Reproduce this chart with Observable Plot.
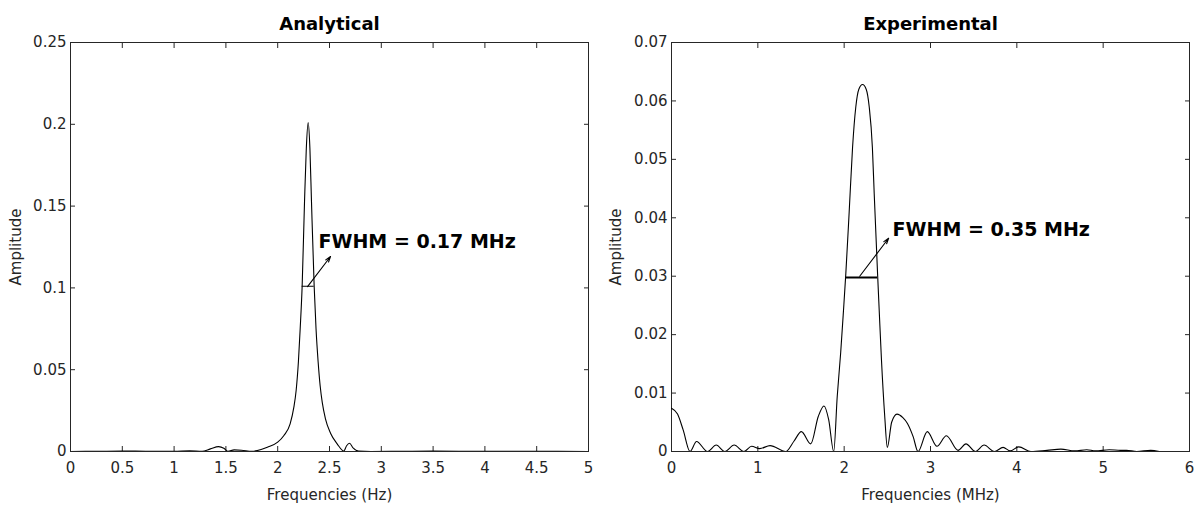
<!DOCTYPE html>
<html><head><meta charset="utf-8">
<script src="https://cdn.jsdelivr.net/npm/d3@7"></script>
<script src="https://cdn.jsdelivr.net/npm/@observablehq/plot@0.6"></script>
<style>
html,body{margin:0;padding:0;background:#fff;}
#wrap{display:flex;width:1204px;height:506px;}
</style></head><body><div id="wrap"></div>
<script>
// ---------- Analytical panel ----------
const anaFreq = [0, 0.25, 0.5, 0.75, 1.0, 1.15, 1.27, 1.35, 1.43, 1.48, 1.52, 1.58, 1.65, 1.75, 1.84, 1.90, 2.00, 2.06, 2.12, 2.156, 2.178, 2.20, 2.217, 2.236, 2.259, 2.276, 2.294, 2.311, 2.326, 2.352, 2.37, 2.39, 2.41, 2.43, 2.461, 2.510, 2.574, 2.638, 2.665, 2.693, 2.73, 2.78, 2.9, 3.2, 3.5, 4.0, 4.5, 5.0];
const anaAmp  = [0.0000, 0.0001, 0.0003, 0.0001, 0.0001, 0.0004, 0.0001, 0.0016, 0.0030, 0.0020, 0.0001, 0.0010, 0.0008, 0.0001, 0.0012, 0.0026, 0.0057, 0.0098, 0.0169, 0.0271, 0.0373, 0.055, 0.075, 0.101, 0.153, 0.185, 0.2010, 0.185, 0.153, 0.101, 0.075, 0.055, 0.040, 0.030, 0.0200, 0.0112, 0.0047, 0.0003, 0.0035, 0.0050, 0.0020, 0.0003, 0.0000, 0.0001, 0.0002, 0.0001, 0.0001, 0.0000];
const anaXTicks = [0, 0.5, 1, 1.5, 2, 2.5, 3, 3.5, 4, 4.5, 5];
const anaYTicks = [0, 0.05, 0.1, 0.15, 0.2, 0.25];
const anaFwhm = [{x1: 2.236, x2: 2.352, y: 0.101}];
const anaArrow = [{x1: 2.288, y1: 0.1008, x2: 2.51, y2: 0.1192}];
const anaNote = [{x: 2.394, y: 0.1284, text: "FWHM = 0.17 MHz"}];

// ---------- Experimental panel ----------
const expFreq = [0, 0.07, 0.135, 0.215, 0.29, 0.417, 0.518, 0.617, 0.726, 0.839, 0.928, 1.021, 1.142, 1.323, 1.42, 1.504, 1.613, 1.70, 1.766, 1.82, 1.879, 1.92, 1.96, 1.992, 2.019, 2.058, 2.097, 2.135, 2.17, 2.213, 2.255, 2.29, 2.327, 2.348, 2.387, 2.406, 2.431, 2.47, 2.50, 2.55, 2.612, 2.68, 2.733, 2.80, 2.855, 2.963, 3.075, 3.184, 3.319, 3.411, 3.519, 3.621, 3.74, 3.841, 3.923, 4.022, 4.164, 4.35, 4.51, 4.67, 4.81, 4.91, 5.07, 5.2, 5.27, 5.39, 5.55, 5.65];
const expAmp  = [0.0074, 0.0064, 0.0037, 0.0000, 0.0017, 0.0000, 0.0011, 0.0000, 0.0011, 0.0000, 0.0009, 0.0005, 0.0010, 0.0000, 0.0018, 0.0034, 0.0013, 0.0060, 0.0078, 0.0055, 0.0000, 0.0095, 0.0170, 0.0241, 0.0304, 0.0410, 0.0520, 0.0590, 0.0620, 0.0628, 0.0620, 0.0590, 0.0520, 0.0441, 0.0304, 0.0241, 0.0160, 0.0060, 0.0007, 0.0050, 0.0064, 0.0058, 0.0048, 0.0025, 0.0000, 0.0034, 0.0009, 0.0027, 0.0002, 0.0013, 0.0000, 0.0011, 0.0000, 0.0007, 0.0001, 0.0008, 0.0000, 0.0002, 0.0004, 0.0001, 0.0003, 0.0001, 0.0003, 0.0002, 0.0002, 0.0000, 0.0002, 0.0000];
const expXTicks = [0, 1, 2, 3, 4, 5, 6];
const expYTicks = [0, 0.01, 0.02, 0.03, 0.04, 0.05, 0.06, 0.07];
const expFwhm = [{x1: 2.019, x2: 2.387, y: 0.0298}];
const expArrow = [{x1: 2.18, y1: 0.0300, x2: 2.515, y2: 0.0365}];
const expNote = [{x: 2.561, y: 0.0380, text: "FWHM = 0.35 MHz"}];

const titles = ["Analytical", "Experimental"];
const xLabels = ["Frequencies (Hz)", "Frequencies (MHz)"];
const yLabel = "Amplitude";

const axisColor = "#262626";
const FONT = "'DejaVu Sans', Verdana, sans-serif";
const fmt = (d) => String(d);

function panel({freq, amp, xTicks, yTicks, xDomain, yDomain, fwhm, fwhmWidth, arrow, note, title, xLabel, width, marginLeft, marginRight}) {
  const pts = freq.map((f, i) => ({f, a: amp[i]}));
  const blank = () => "";
  return Plot.plot({
    width, height: 506,
    marginLeft, marginRight, marginTop: 42, marginBottom: 55,
    style: {fontFamily: FONT, color: axisColor, background: "white", overflow: "visible"},
    x: {domain: xDomain},
    y: {domain: yDomain},
    marks: [
      Plot.frame({stroke: axisColor, strokeWidth: 1}),
      // inward ticks on all four sides
      Plot.axisX(xTicks, {anchor: "bottom", tickSize: -5, tickFormat: blank, label: null, stroke: axisColor}),
      Plot.axisX(xTicks, {anchor: "top", tickSize: -5, tickFormat: blank, label: null, stroke: axisColor}),
      Plot.axisY(yTicks, {anchor: "left", tickSize: -5, tickFormat: blank, label: null, stroke: axisColor}),
      Plot.axisY(yTicks, {anchor: "right", tickSize: -5, tickFormat: blank, label: null, stroke: axisColor}),
      // tick labels and axis titles
      Plot.axisX(xTicks, {anchor: "bottom", tickSize: 0, tickPadding: 11, fontSize: 15, fill: axisColor, tickFormat: fmt,
        label: xLabel, labelAnchor: "center", labelOffset: 48, labelArrow: "none"}),
      Plot.axisY(yTicks, {anchor: "left", tickSize: 0, tickPadding: 4, fontSize: 15, fill: axisColor, tickFormat: fmt,
        label: yLabel, labelAnchor: "center", labelOffset: marginLeft - 10, labelArrow: "none"}),
      Plot.line(pts, {x: "f", y: "a", stroke: "black", strokeWidth: 1.1, curve: "monotone-x", clip: true}),
      Plot.ruleY(fwhm, {y: "y", x1: "x1", x2: "x2", stroke: "black", strokeWidth: fwhmWidth}),
      Plot.arrow(arrow, {x1: "x1", y1: "y1", x2: "x2", y2: "y2", stroke: "black", strokeWidth: 1.1, headLength: 8, headAngle: 35}),
      Plot.text(note, {x: "x", y: "y", text: "text", textAnchor: "start", fontWeight: "bold", fontSize: 19, fill: "black"}),
      Plot.text([title], {frameAnchor: "top", dy: -25, fontWeight: "bold", fontSize: 18, fill: "black"})
    ]
  });
}

const wrap = document.getElementById("wrap");
wrap.appendChild(panel({
  freq: anaFreq, amp: anaAmp, xTicks: anaXTicks, yTicks: anaYTicks,
  xDomain: [0, 5], yDomain: [0, 0.25], fwhm: anaFwhm, fwhmWidth: 1,
  arrow: anaArrow, note: anaNote, title: titles[0], xLabel: xLabels[0],
  width: 600, marginLeft: 70, marginRight: 12
}));
wrap.appendChild(panel({
  freq: expFreq, amp: expAmp, xTicks: expXTicks, yTicks: expYTicks,
  xDomain: [0, 6], yDomain: [0, 0.07], fwhm: expFwhm, fwhmWidth: 2,
  arrow: expArrow, note: expNote, title: titles[1], xLabel: xLabels[1],
  width: 604, marginLeft: 71, marginRight: 15
}));
</script>
</body></html>
